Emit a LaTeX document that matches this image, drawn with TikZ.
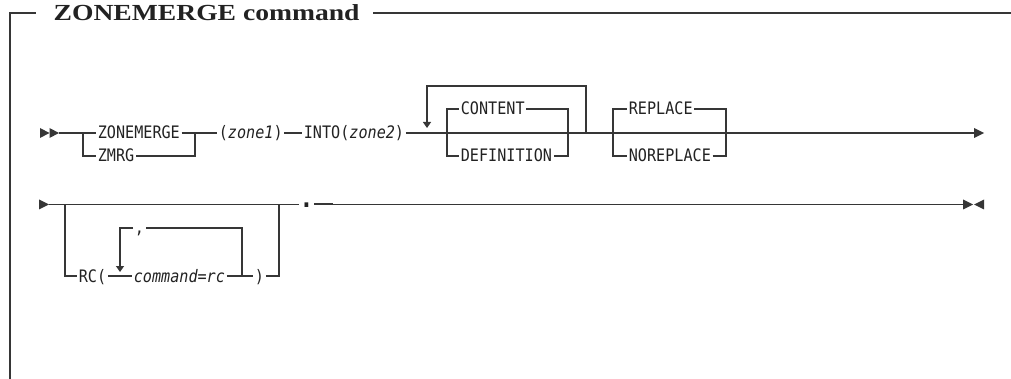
\documentclass[tikz,border=0pt]{standalone}
\usepackage{graphicx}
\usepackage{fontspec}
\setmainfont{Liberation Serif}
\setmonofont[FakeStretch=0.88]{DejaVu Sans Mono}
\usetikzlibrary{positioning,arrows.meta}
\definecolor{rail}{HTML}{363636}
\definecolor{ink}{HTML}{222222}
\begin{document}
\begin{tikzpicture}[x=1pt,y=-1pt,line width=1.3pt,
  lbl/.style={font=\ttfamily\fontsize{17.2}{18}\selectfont,text=ink,inner xsep=1.2pt,inner ysep=0pt,text height=14pt,text depth=2pt,anchor=west},
  loopdown/.style={rail,-{Triangle[length=6pt,width=8pt]}}]
  \useasboundingbox (0,0) rectangle (1011,379);
  % frame and title
  \node[font=\bfseries\fontsize{23}{23}\selectfont,text=ink,anchor=base west,inner sep=0pt] (title) at (53,21) {\scalebox{1.2}[1]{ZONEMERGE command}};
  \draw[rail] (10,379) |- (36,13);
  \draw[rail] (373,13) -- (1011,13);
  % first row
  \fill[rail] (40,128) -- (49.5,133) -- (40,138) -- cycle;
  \fill[rail] (49.5,128) -- (59,133) -- (49.5,138) -- cycle;
  \coordinate (s1) at (59,133);
  \coordinate (e1) at (974,133);
  \coordinate (a1) at (83,133);  \coordinate (a2) at (195,133);
  \coordinate (b1) at (447,133); \coordinate (b2) at (568,133);
  \coordinate (c1) at (613,133); \coordinate (c2) at (726,133);
  \coordinate (l1) at (427,128); \coordinate (l2) at (586,133);
  \node[lbl] (zm) at (96,133) {ZONEMERGE};
  \node[lbl] (zmrg) at (96,156) {ZMRG};
  \node[lbl] (z1) at (217,133) {(\textit{zone1})};
  \node[lbl] (into) at (302,133) {INTO(\textit{zone2})};
  \node[lbl] (cont) at (459,109) {CONTENT};
  \node[lbl] (defn) at (459,156) {DEFINITION};
  \node[lbl] (repl) at (627,109) {REPLACE};
  \node[lbl] (norepl) at (627,156) {NOREPLACE};
  \draw[rail] (s1) -- (zm) -- (z1) -- (into) -- (e1);
  \draw[rail] (a1) |- (zmrg) -| (a2);
  \draw[loopdown] (l2) -- ++(0,-47) -| (l1);
  \draw[rail] (b1) |- (cont) -| (b2);
  \draw[rail] (b1) |- (defn) -| (b2);
  \draw[rail] (c1) |- (repl) -| (c2);
  \draw[rail] (c1) |- (norepl) -| (c2);
  \fill[rail] (974,128) -- (984,133) -- (974,138) -- cycle;
  % second row
  \fill[rail] (39,199.5) -- (49,204.5) -- (39,209.5) -- cycle;
  \coordinate (s2) at (49,204.5);
  \coordinate (e2) at (963,204.5);
  \coordinate (d1) at (65,204.5);  \coordinate (d2) at (279,204.5);
  \coordinate (r1) at (120,272); \coordinate (r2) at (242,276);
  \node[lbl] (rc) at (77,276) {RC(};
  \node[lbl] (cmd) at (132,276) {\textit{command=rc}};
  \node[lbl] (comma) at (133,228) {,};
  \node[lbl] (rpar) at (253,276) {)};
  \node[lbl,inner xsep=0pt] (dot) at (299,204.5) {\raisebox{3pt}{\fontsize{26}{26}\bfseries\selectfont .}};
  \draw[rail] (s2) -- (dot) -- (e2);
  \draw[rail,line width=2pt] (dot.east) -- ++(19,0);
  \draw[rail] (d1) |- (rc) -- (cmd) -- (rpar) -| (d2);
  \draw[loopdown] (r2) |- (comma) -| (r1);
  \fill[rail] (963,199.5) -- (973,204.5) -- (963,209.5) -- cycle;
  \fill[rail] (984,199.5) -- (974,204.5) -- (984,209.5) -- cycle;
\end{tikzpicture}
\end{document}
